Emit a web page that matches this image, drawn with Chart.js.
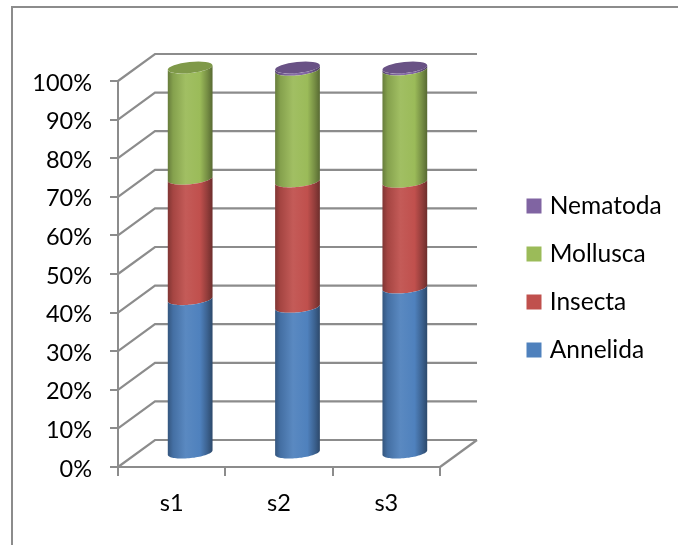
<!DOCTYPE html>
<html>
<head>
<meta charset="utf-8">
<style>
  html, body { margin: 0; padding: 0; background: #fff; }
  #wrap { position: absolute; left: 0; top: 0; width: 678px; height: 545px; }
</style>
<script src="https://cdn.jsdelivr.net/npm/chart.js@4"></script>
</head>
<body>
<div id="wrap"><canvas id="chart" width="678" height="545"></canvas></div>
<script>
// Community composition per sample, in percent of the total
const categories = ['s1', 's2', 's3'];
const annelida = [40.0, 38.0, 43.0];
const insecta  = [31.2, 32.5, 27.4];
const mollusca = [28.8, 28.9, 29.1];
const nematoda = [0.0, 0.6, 0.5];
const seriesColors = { annelida: '#4f81bd', insecta: '#c0504d', mollusca: '#9bbb59', nematoda: '#8064a2' };

// Depth of the 3-D box, in pixels
const DEPTH_X = 37, DEPTH_Y = 27;
const CYLINDER_WIDTH = 45, ELLIPSE_RY = 5.6, ELLIPSE_TILT = -0.105;
const LINE_COLOR = '#8c8c8c';
const AXIS_FONT = { family: 'Lato', size: 23.5 };
const LEGEND_FONT = { family: 'Lato', size: 24.5 };

function shade(hex, f) {
  const n = parseInt(hex.slice(1), 16);
  const ch = s => {
    const v = (n >> s) & 255;
    return Math.round(f < 1 ? v * f : v + (255 - v) * (f - 1));
  };
  return `rgb(${ch(16)},${ch(8)},${ch(0)})`;
}

// Point on a tilted ellipse centred at (cx, cy)
function onEllipse(cx, cy, rx, t) {
  const ex = rx * Math.cos(t), ey = ELLIPSE_RY * Math.sin(t);
  return [cx + ex * Math.cos(ELLIPSE_TILT) - ey * Math.sin(ELLIPSE_TILT),
          cy + ex * Math.sin(ELLIPSE_TILT) + ey * Math.cos(ELLIPSE_TILT)];
}

// Each bar segment is painted as a piece of a cylinder standing mid-way in the box depth
Chart.BarElement.prototype.draw = function (ctx) {
  const { x, y, base } = this.getProps(['x', 'y', 'base'], false);
  if (Math.abs(base - y) < 0.01) return;
  const cx = x + DEPTH_X / 2, rx = CYLINDER_WIDTH / 2;
  const top = y - DEPTH_Y / 2, bottom = base - DEPTH_Y / 2;
  const color = this.options.backgroundColor;
  const g = ctx.createLinearGradient(cx - rx, 0, cx + rx, 0);
  g.addColorStop(0, shade(color, 0.66));
  g.addColorStop(0.12, shade(color, 0.86));
  g.addColorStop(0.4, shade(color, 1.06));
  g.addColorStop(0.72, shade(color, 1.0));
  g.addColorStop(0.88, shade(color, 0.76));
  g.addColorStop(1, shade(color, 0.56));
  ctx.save();
  ctx.fillStyle = g;
  ctx.beginPath();
  for (let i = 0; i <= 40; i++) {
    const p = onEllipse(cx, top, rx, Math.PI - Math.PI * i / 40);
    i ? ctx.lineTo(p[0], p[1]) : ctx.moveTo(p[0], p[1]);
  }
  for (let i = 0; i <= 40; i++) {
    const p = onEllipse(cx, bottom, rx, Math.PI * i / 40);
    ctx.lineTo(p[0], p[1]);
  }
  ctx.closePath();
  ctx.fill();
  ctx.restore();
};

// Box walls and floor, placed from the scales
const boxPlugin = {
  id: 'box3d',
  afterLayout(chart) {
    const lg = chart.legend;
    const pad = lg.options.labels.padding;
    lg.left = 530.5 - pad;
    lg.right = lg.left + lg.width;
    lg.top = 206 - LEGEND_FONT.size / 2 - pad;
    lg.bottom = lg.top + 400;
    lg.adjustHitBoxes();
  },
  beforeDatasetsDraw(chart) {
    const { ctx, chartArea: a, scales: { y: ys } } = chart;
    ctx.save();
    ctx.strokeStyle = LINE_COLOR;
    ctx.lineWidth = 2.2;
    ys.ticks.forEach(t => {
      const py = ys.getPixelForValue(t.value);
      ctx.beginPath();
      ctx.moveTo(a.left, py);
      ctx.lineTo(a.left + DEPTH_X, py - DEPTH_Y);
      ctx.lineTo(a.right + DEPTH_X, py - DEPTH_Y);
      ctx.stroke();
    });
    ctx.beginPath();
    ctx.moveTo(a.right, a.bottom);
    ctx.lineTo(a.right + DEPTH_X, a.bottom - DEPTH_Y);
    ctx.stroke();
    ctx.restore();
  },
  // Top faces go on last, over the sides of every stack
  afterDatasetsDraw(chart) {
    const { ctx } = chart;
    const metas = chart.getSortedVisibleDatasetMetas();
    categories.forEach((_, i) => {
      let el = null, color = null;
      metas.forEach(m => {
        const series = chart.data.datasets[m.index];
        if (series.data[i] > 0) { el = m.data[i]; color = series.backgroundColor; }
      });
      if (!el) return;
      const { x, y } = el.getProps(['x', 'y'], false);
      ctx.save();
      ctx.translate(x + DEPTH_X / 2, y - DEPTH_Y / 2);
      ctx.rotate(ELLIPSE_TILT);
      ctx.fillStyle = shade(color, 0.82);
      ctx.beginPath();
      ctx.ellipse(0, 0, CYLINDER_WIDTH / 2, ELLIPSE_RY, 0, 0, Math.PI * 2);
      ctx.fill();
      ctx.restore();
    });
  },
  // Outer chart frame: only the top and left edges fall inside the page
  beforeDraw(chart) {
    const { ctx } = chart;
    ctx.save();
    ctx.strokeStyle = LINE_COLOR;
    ctx.lineWidth = 2;
    ctx.beginPath();
    ctx.moveTo(12, 545);
    ctx.lineTo(12, 7);
    ctx.lineTo(678, 7);
    ctx.stroke();
    ctx.restore();
  }
};

const toDataset = (label, data, color) => ({ label, data, backgroundColor: color, borderWidth: 0, clip: false });

new Chart(document.getElementById('chart'), {
  type: 'bar',
  data: {
    labels: categories,
    datasets: [
      toDataset('Annelida', annelida, seriesColors.annelida),
      toDataset('Insecta', insecta, seriesColors.insecta),
      toDataset('Mollusca', mollusca, seriesColors.mollusca),
      toDataset('Nematoda', nematoda, seriesColors.nematoda)
    ]
  },
  plugins: [boxPlugin],
  options: {
    responsive: false,
    animation: false,
    layout: { padding: { left: 0, top: 81, right: 238, bottom: 0 } },
    datasets: { bar: { categoryPercentage: 0.42, barPercentage: 1 } },
    plugins: {
      tooltip: { enabled: false },
      legend: {
        position: 'chartArea',
        align: 'start',
        reverse: true,
        labels: {
          // small box plus a thick same-colour outline: a 15 px swatch close to its text
          boxWidth: 7, boxHeight: 7, padding: 23.5,
          color: '#000',
          font: LEGEND_FONT,
          generateLabels(chart) {
            return Chart.defaults.plugins.legend.labels.generateLabels(chart).map(item => ({
              ...item, strokeStyle: item.fillStyle, lineWidth: 8
            }));
          }
        }
      }
    },
    scales: {
      x: {
        stacked: true,
        afterFit(scale) { scale.height = 78; },
        grid: { display: true, drawOnChartArea: false, color: LINE_COLOR, lineWidth: 2, tickLength: 9, offset: true },
        border: { display: true, color: LINE_COLOR, width: 2 },
        ticks: { color: '#000', padding: 13, font: AXIS_FONT, maxRotation: 0 }
      },
      y: {
        stacked: true,
        min: 0, max: 100,
        afterFit(scale) { scale.width = 118; },
        grid: { display: true, drawOnChartArea: false, color: LINE_COLOR, lineWidth: 2, tickLength: 8 },
        border: { display: true, color: LINE_COLOR, width: 2 },
        ticks: { stepSize: 10, color: '#000', padding: 18, font: AXIS_FONT, labelOffset: 2, callback: v => v + '%' }
      }
    }
  }
});
</script>
</body>
</html>
